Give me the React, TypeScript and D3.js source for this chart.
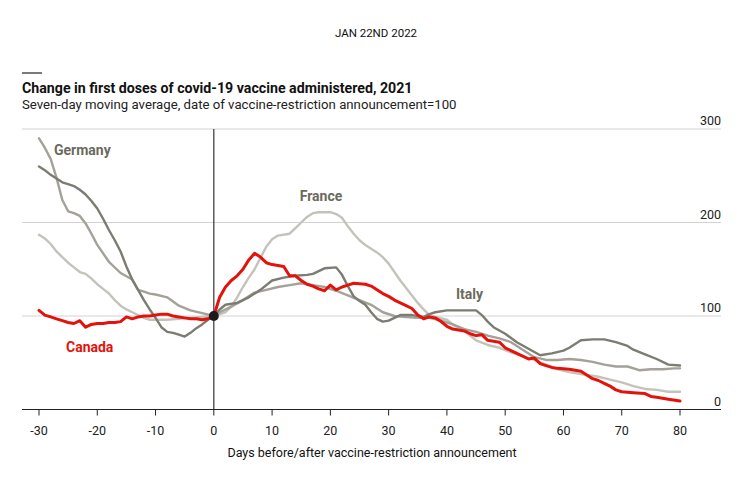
import React from 'react';
import * as d3 from 'd3';

// [day, index] pairs
const germany: [number, number][] = [
  [-30, 290], [-29, 280], [-28, 268], [-27, 248], [-26, 224], [-25, 212], [-24, 210], [-23, 207],
  [-22, 199], [-21, 188], [-20, 176], [-18, 158], [-16, 146], [-14, 139], [-13, 128], [-12, 126],
  [-11, 124], [-10, 123], [-8, 120], [-6, 111], [-4, 106], [-2, 103], [0, 100], [1, 104], [3, 110],
  [5, 117], [7, 125], [9, 128], [11, 131], [13, 133], [15, 135], [17, 133], [19, 131], [21, 127],
  [23, 122], [25, 117], [27, 112], [29, 104], [31, 100], [33, 99], [35, 98], [37, 98], [39, 95],
  [41, 91], [43, 86], [45, 83], [47, 79], [49, 76], [51, 72], [53, 64], [55, 56], [57, 53],
  [59, 53], [61, 54], [63, 53], [65, 51], [67, 48], [69, 46], [71, 46], [73, 42], [75, 43],
  [77, 43], [79, 44], [80, 44],
];

const italy: [number, number][] = [
  [-30, 260], [-29, 256], [-28, 251], [-27, 247], [-26, 243], [-25, 241], [-24, 239], [-23, 235],
  [-22, 230], [-21, 223], [-20, 215], [-19, 204], [-18, 192], [-17, 181], [-16, 169], [-15, 153],
  [-14, 139], [-13, 128], [-12, 117], [-11, 107], [-10, 98], [-9, 88], [-8, 83], [-7, 82],
  [-6, 80], [-5, 78], [-4, 82], [-3, 87], [-2, 91], [-1, 96], [0, 100], [1, 107], [2, 112],
  [4, 114], [6, 120], [8, 128], [10, 138], [12, 141], [14, 143], [16, 144], [17, 145], [18, 148],
  [19, 151], [21, 152], [22, 144], [23, 132], [24, 121], [25, 116], [26, 112], [27, 104], [28, 97],
  [29, 94], [30, 95], [31, 98], [32, 101], [34, 101], [36, 99], [37, 102], [38, 104], [40, 106],
  [45, 106], [46, 101], [47, 94], [48, 88], [50, 81], [52, 72], [54, 65], [56, 58], [58, 60],
  [60, 63], [61, 66], [62, 70], [63, 74], [65, 75], [67, 75], [69, 72], [71, 68], [72, 64],
  [74, 59], [76, 54], [78, 48], [80, 47],
];

const france: [number, number][] = [
  [-30, 187], [-29, 183], [-28, 177], [-27, 169], [-26, 163], [-25, 157], [-24, 152], [-23, 147],
  [-22, 145], [-21, 140], [-20, 134], [-19, 129], [-18, 124], [-17, 117], [-16, 111], [-15, 107],
  [-14, 104], [-13, 101], [-12, 98], [-11, 96], [-10, 96], [-8, 96], [-6, 97], [-4, 98], [-2, 99],
  [0, 100], [2, 104], [3, 110], [4, 120], [5, 131], [6, 141], [7, 150], [8, 162], [9, 174],
  [10, 182], [11, 186], [13, 188], [14, 194], [15, 200], [16, 206], [17, 210], [18, 211], [20, 211],
  [21, 209], [22, 205], [23, 196], [24, 188], [25, 181], [26, 176], [27, 172], [28, 168], [29, 163],
  [30, 156], [31, 147], [32, 138], [33, 130], [34, 122], [35, 114], [36, 107], [37, 101], [38, 99],
  [40, 96], [41, 91], [43, 84], [45, 74], [47, 69], [49, 66], [51, 61], [53, 57], [55, 53],
  [57, 48], [59, 43], [61, 40], [63, 38], [66, 35], [68, 32], [70, 29], [72, 25], [74, 22],
  [76, 21], [78, 19], [80, 19],
];

const canada: [number, number][] = [
  [-30, 106], [-29, 101], [-28, 99], [-27, 97], [-26, 95], [-25, 93], [-24, 92], [-23, 95],
  [-22, 88], [-21, 91], [-20, 92], [-19, 92], [-18, 93], [-17, 93], [-16, 94], [-15, 99],
  [-14, 97], [-13, 99], [-12, 100], [-11, 100], [-10, 101], [-9, 102], [-8, 102], [-7, 100],
  [-6, 99], [-5, 98], [-4, 97], [-3, 97], [-2, 96], [-1, 97], [0, 100], [1, 120], [2, 131],
  [3, 138], [4, 143], [5, 150], [6, 160], [7, 167], [8, 163], [9, 157], [10, 155], [11, 154],
  [12, 153], [13, 143], [14, 143], [15, 138], [16, 134], [17, 132], [18, 129], [19, 127], [20, 133],
  [21, 128], [22, 131], [23, 133], [24, 135], [26, 134], [27, 132], [28, 128], [29, 124], [30, 121],
  [31, 117], [32, 114], [33, 111], [34, 108], [35, 101], [36, 97], [37, 99], [38, 98], [39, 94],
  [40, 89], [41, 86], [42, 85], [43, 84], [44, 81], [45, 79], [46, 80], [47, 74], [48, 73],
  [49, 72], [50, 66], [51, 63], [52, 60], [53, 57], [54, 54], [55, 55], [56, 49], [57, 47],
  [58, 45], [59, 44], [61, 43], [63, 41], [64, 37], [65, 33], [66, 31], [67, 28], [68, 25],
  [69, 21], [70, 19], [72, 18], [74, 17], [75, 14], [76, 13], [78, 11], [80, 9],
];

const xTicks = [-30, -20, -10, 0, 10, 20, 30, 40, 50, 60, 70, 80];
const yTicks = [0, 100, 200, 300];

const FONT = 'Roboto, "Noto Sans", sans-serif';

export default function App() {
  const x = d3.scaleLinear().domain([-30, 80]).range([39, 680]);
  const y = d3.scaleLinear().domain([0, 300]).range([409.5, 129]);
  const line = d3.line<[number, number]>().x(d => x(d[0])).y(d => y(d[1]));

  const series = [
    { data: france, color: '#c4c3bb', w: 2.4 },
    { data: germany, color: '#a3a198', w: 2.4 },
    { data: italy, color: '#7d7c72', w: 2.4 },
    { data: canada, color: '#e3120b', w: 3 },
  ];

  return (
    <svg width={754} height={488} style={{ display: 'block', fontFamily: FONT }}>
      <style>{'body{margin:0}'}</style>
      <rect width={754} height={488} fill="#fff" />
      <text x={376} y={37} textAnchor="middle" fontSize={11.5} fill="#111">JAN 22ND 2022</text>
      <line x1={22} x2={42} y1={73} y2={73} stroke="#7b7b7b" strokeWidth={2} />
      <text x={22} y={93} fontSize={14.2} fontWeight={700} fill="#111">
        Change in first doses of covid-19 vaccine administered, 2021
      </text>
      <text x={22} y={109} fontSize={13.2} fill="#222">
        Seven-day moving average, date of vaccine-restriction announcement=100
      </text>

      {yTicks.filter(t => t > 0).map(t => (
        <line key={t} x1={22} x2={721} y1={y(t)} y2={y(t)} stroke="#d3d3d3" strokeWidth={1.2} />
      ))}
      {yTicks.map(t => (
        <text key={t} x={721} y={y(t) - 4} textAnchor="end" fontSize={12.5} fill="#222">{t}</text>
      ))}

      <line x1={x(0)} x2={x(0)} y1={y(300)} y2={y(0)} stroke="#333" strokeWidth={1.2} />

      {series.map((s, i) => (
        <path key={i} d={line(s.data) || ''} fill="none" stroke={s.color} strokeWidth={s.w}
          strokeLinejoin="round" strokeLinecap="round" />
      ))}

      <circle cx={x(0)} cy={y(100)} r={5} fill="#1a1a1a" />

      <line x1={22} x2={721} y1={y(0)} y2={y(0)} stroke="#222" strokeWidth={1.2} />
      {xTicks.map(t => (
        <g key={t}>
          <line x1={x(t)} x2={x(t)} y1={y(0)} y2={y(0) + 6} stroke="#222" strokeWidth={1} />
          <text x={x(t)} y={y(0) + 25} textAnchor="middle" fontSize={12.5} fill="#222">{t}</text>
        </g>
      ))}
      <text x={372} y={457} textAnchor="middle" fontSize={12.5} fill="#111">
        Days before/after vaccine-restriction announcement
      </text>

      <text x={54} y={155} fontSize={14} fontWeight={700} fill="#6b6a5e">Germany</text>
      <text x={321} y={201} textAnchor="middle" fontSize={14} fontWeight={700} fill="#6b6a5e">France</text>
      <text x={456} y={299} fontSize={14} fontWeight={700} fill="#6b6a5e">Italy</text>
      <text x={66} y={352} fontSize={14} fontWeight={700} fill="#e3120b">Canada</text>
    </svg>
  );
}
